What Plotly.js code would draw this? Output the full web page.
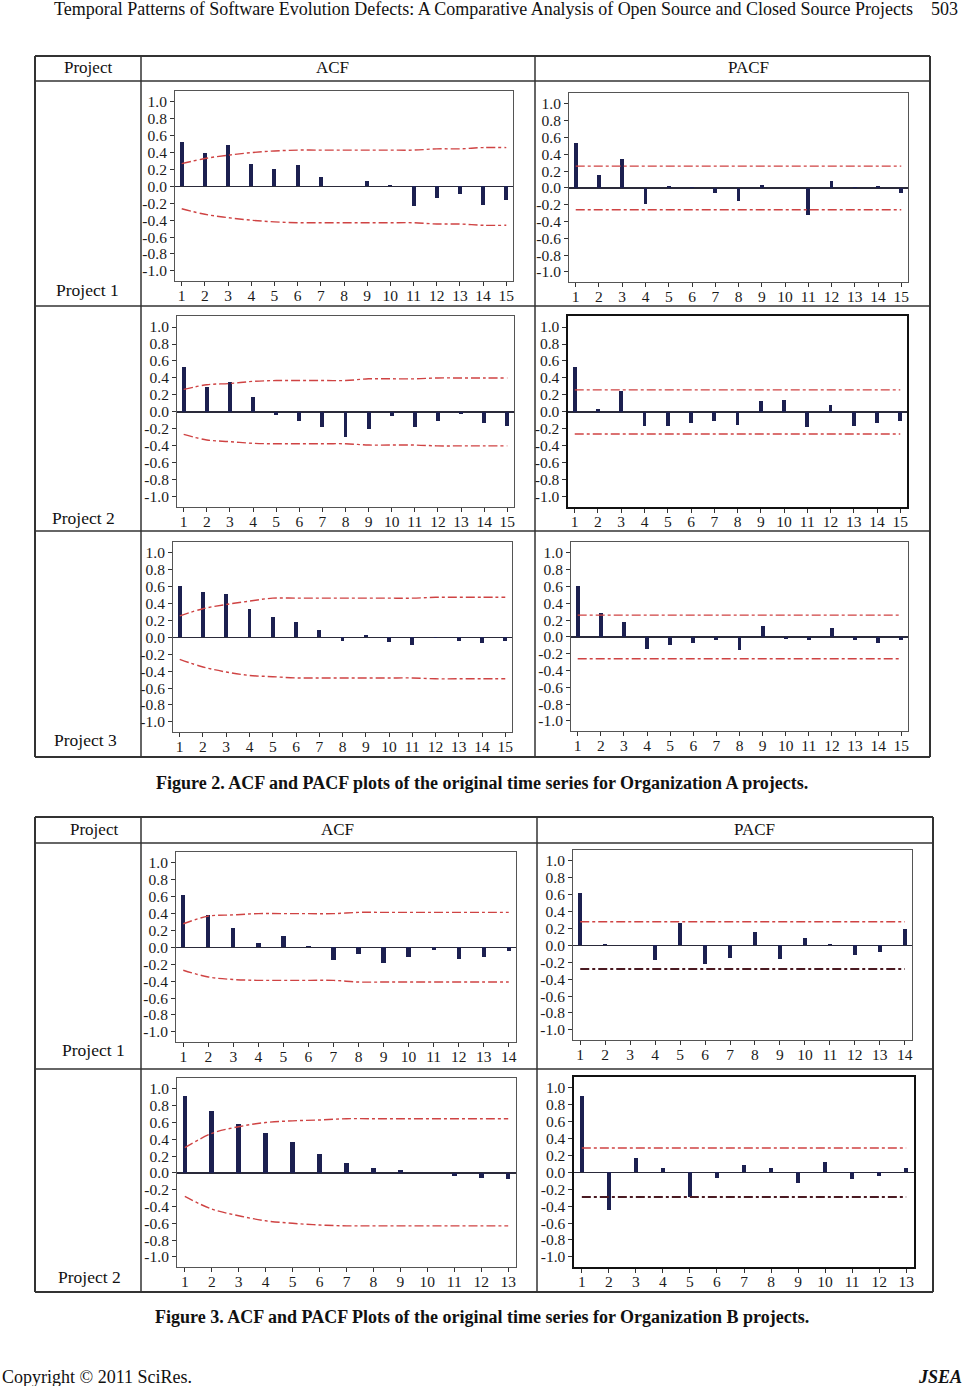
<!DOCTYPE html>
<html><head><meta charset="utf-8">
<script src="https://cdn.plot.ly/plotly-3.0.1.min.js"></script>
<style>html,body{margin:0;padding:0;background:#fff;}#chart{width:964px;height:1386px;}</style>
</head><body><div id="chart"></div>
<script>
// ---------- DATA ----------
const yTickValues = [1.0, 0.8, 0.6, 0.4, 0.2, 0.0, -0.2, -0.4, -0.6, -0.8, -1.0];
const yTickLabels = ['1.0', '0.8', '0.6', '0.4', '0.2', '0.0', '-0.2', '-0.4', '-0.6', '-0.8', '-1.0'];
const lags15 = [1, 2, 3, 4, 5, 6, 7, 8, 9, 10, 11, 12, 13, 14, 15];
const lags14 = [1, 2, 3, 4, 5, 6, 7, 8, 9, 10, 11, 12, 13, 14];
const lags13 = [1, 2, 3, 4, 5, 6, 7, 8, 9, 10, 11, 12, 13];

// Organization A, Project 1
const acfA1 = [0.53, 0.39, 0.49, 0.27, 0.21, 0.25, 0.115, 0.005, 0.06, 0.02, -0.23, -0.14, -0.09, -0.225, -0.16];
const acfA1Upper = [0.27, 0.33, 0.37, 0.40, 0.42, 0.43, 0.43, 0.43, 0.43, 0.43, 0.43, 0.445, 0.445, 0.46, 0.46];
const acfA1Lower = [-0.265, -0.33, -0.37, -0.40, -0.42, -0.43, -0.43, -0.43, -0.43, -0.43, -0.43, -0.445, -0.445, -0.46, -0.46];
const pacfA1 = [0.54, 0.15, 0.35, -0.19, 0.02, 0.01, -0.06, -0.15, 0.03, 0.005, -0.32, 0.08, 0.008, 0.02, -0.055];
const pacfA1Bound = 0.26;

// Organization A, Project 2
const acfA2 = [0.53, 0.29, 0.35, 0.17, -0.04, -0.11, -0.18, -0.30, -0.20, -0.05, -0.18, -0.11, -0.03, -0.13, -0.16];
const acfA2Upper = [0.265, 0.32, 0.335, 0.36, 0.37, 0.37, 0.37, 0.37, 0.39, 0.39, 0.39, 0.40, 0.40, 0.40, 0.40];
const acfA2Lower = [-0.265, -0.33, -0.35, -0.37, -0.375, -0.375, -0.375, -0.375, -0.39, -0.39, -0.39, -0.40, -0.40, -0.40, -0.40];
const pacfA2 = [0.53, 0.03, 0.25, -0.16, -0.16, -0.13, -0.11, -0.15, 0.13, 0.145, -0.18, 0.08, -0.16, -0.13, -0.11];
const pacfA2Bound = 0.26;

// Organization A, Project 3
const acfA3 = [0.61, 0.535, 0.51, 0.34, 0.24, 0.18, 0.09, -0.04, 0.03, -0.05, -0.09, -0.005, -0.045, -0.07, -0.04];
const acfA3Upper = [0.255, 0.34, 0.39, 0.43, 0.465, 0.465, 0.465, 0.465, 0.465, 0.465, 0.465, 0.475, 0.475, 0.475, 0.475];
const acfA3Lower = [-0.26, -0.35, -0.41, -0.45, -0.465, -0.48, -0.48, -0.48, -0.48, -0.48, -0.48, -0.49, -0.49, -0.49, -0.49];
const pacfA3 = [0.61, 0.28, 0.18, -0.14, -0.10, -0.07, -0.04, -0.15, 0.125, -0.02, -0.04, 0.105, -0.04, -0.07, -0.04];
const pacfA3Bound = 0.26;

// Organization B, Project 1
const acfB1 = [0.62, 0.38, 0.23, 0.05, 0.13, 0.015, -0.15, -0.075, -0.18, -0.11, -0.025, -0.135, -0.11, -0.04];
const acfB1Upper = [0.28, 0.37, 0.385, 0.40, 0.40, 0.40, 0.40, 0.415, 0.415, 0.415, 0.415, 0.415, 0.415, 0.415];
const acfB1Lower = [-0.27, -0.35, -0.38, -0.39, -0.39, -0.39, -0.39, -0.41, -0.41, -0.41, -0.41, -0.41, -0.41, -0.41];
const pacfB1 = [0.62, 0.02, 0.005, -0.17, 0.265, -0.225, -0.15, 0.16, -0.16, 0.09, 0.015, -0.11, -0.08, 0.20];
const pacfB1Bound = 0.28;

// Organization B, Project 2
const acfB2 = [0.91, 0.74, 0.58, 0.48, 0.37, 0.23, 0.12, 0.06, 0.03, 0.005, -0.04, -0.06, -0.07];
const acfB2Upper = [0.30, 0.47, 0.55, 0.60, 0.62, 0.63, 0.645, 0.645, 0.645, 0.645, 0.645, 0.645, 0.645];
const acfB2Lower = [-0.28, -0.43, -0.51, -0.57, -0.60, -0.62, -0.63, -0.63, -0.63, -0.63, -0.63, -0.63, -0.63];
const pacfB2 = [0.90, -0.44, 0.17, 0.05, -0.29, -0.065, 0.09, 0.05, -0.12, 0.12, -0.08, -0.045, 0.05];
const pacfB2Bound = 0.29;

// Texts
const headerTitle = 'Temporal Patterns of Software Evolution Defects: A Comparative Analysis of Open Source and Closed Source Projects';
const pageNumber = '503';
const colProject = 'Project', colACF = 'ACF', colPACF = 'PACF';
const caption2 = 'Figure 2. ACF and PACF plots of the original time series for Organization A projects.';
const caption3 = 'Figure 3. ACF and PACF Plots of the original time series for Organization B projects.';
const footerLeft = 'Copyright © 2011 SciRes.';
const footerRight = 'JSEA';

// ---------- LAYOUT HELPERS ----------
const W = 964, H = 1386;
const px = x => x / W;
const py = y => 1 - y / H;
const SERIF = 'Liberation Serif, Times New Roman, serif';
const BAR = '#1c2050';
const RED = '#cf4343';

const panels = [
  {kind: 'acf', x: lags15, y: acfA1, up: acfA1Upper, lo: acfA1Lower, box: [175, 91, 513, 281]},
  {kind: 'pacf', x: lags15, y: pacfA1, b: pacfA1Bound, box: [569, 93, 908, 282]},
  {kind: 'acf', x: lags15, y: acfA2, up: acfA2Upper, lo: acfA2Lower, box: [177, 316, 514, 507]},
  {kind: 'pacf', x: lags15, y: pacfA2, b: pacfA2Bound, box: [568, 316, 907, 507], frame: '#111', fw: 1.6},
  {kind: 'acf', x: lags15, y: acfA3, up: acfA3Upper, lo: acfA3Lower, box: [173, 542, 512, 732]},
  {kind: 'pacf', x: lags15, y: pacfA3, b: pacfA3Bound, box: [571, 542, 908, 731]},
  {kind: 'acf', x: lags14, y: acfB1, up: acfB1Upper, lo: acfB1Lower, box: [176, 852, 516, 1042]},
  {kind: 'pacf', x: lags14, y: pacfB1, b: pacfB1Bound, box: [573, 850, 912, 1040], darkLower: true},
  {kind: 'acf', x: lags13, y: acfB2, up: acfB2Upper, lo: acfB2Lower, box: [177, 1078, 516, 1267]},
  {kind: 'pacf', x: lags13, y: pacfB2, b: pacfB2Bound, box: [574, 1077, 914, 1267], darkLower: true, frame: '#111', fw: 1.6}
];

const data = [];
const layout = {
  width: W, height: H,
  margin: {l: 0, r: 0, t: 0, b: 0},
  paper_bgcolor: '#fff', plot_bgcolor: '#fff',
  showlegend: false, bargap: 0,
  shapes: [], annotations: []
};

panels.forEach((p, i) => {
  const n = i + 1;
  const xa = 'x' + (n === 1 ? '' : n), ya = 'y' + (n === 1 ? '' : n);
  const N = p.x.length;
  const [l, t, r, b] = p.box;
  const tickFont = {family: SERIF, size: 15.5, color: '#1a1a1a'};
  layout['xaxis' + (n === 1 ? '' : n)] = {
    domain: [px(l), px(r)], anchor: ya, range: [0.71, N + 0.29],
    tickvals: p.x, ticktext: p.x.map(String), ticks: 'outside', ticklen: 4, tickcolor: '#333',
    ticklabelstandoff: -4,
    showline: true, mirror: true, linecolor: p.frame || '#555', linewidth: p.fw || 1,
    showgrid: false, zeroline: false, tickfont: tickFont, fixedrange: true
  };
  layout['yaxis' + (n === 1 ? '' : n)] = {
    domain: [py(b), py(t)], anchor: xa, range: [-1.12, 1.13],
    tickvals: yTickValues, ticktext: yTickLabels, ticks: 'outside', ticklen: 4, tickcolor: '#333',
    showline: true, mirror: true, linecolor: p.frame || '#555', linewidth: p.fw || 1,
    showgrid: false, zeroline: true, zerolinecolor: '#2a2a3a', zerolinewidth: 1.5,
    tickfont: tickFont, fixedrange: true
  };
  data.push({type: 'bar', x: p.x, y: p.y, xaxis: xa, yaxis: ya, width: 0.17,
    marker: {color: BAR, line: {width: 0}}, hoverinfo: 'x+y'});
  if (p.kind === 'acf') {
    data.push({type: 'scatter', mode: 'lines', x: p.x, y: p.up, xaxis: xa, yaxis: ya,
      line: {color: RED, width: 1.4, dash: 'dashdot', shape: 'spline'}});
    data.push({type: 'scatter', mode: 'lines', x: p.x, y: p.lo, xaxis: xa, yaxis: ya,
      line: {color: RED, width: 1.4, dash: 'dashdot', shape: 'spline'}});
  } else {
    const ends = [p.x[0], p.x[N - 1]];
    data.push({type: 'scatter', mode: 'lines', x: ends, y: [p.b, p.b], xaxis: xa, yaxis: ya,
      line: {color: RED, width: 1.4, dash: 'dashdot'}});
    data.push({type: 'scatter', mode: 'lines', x: ends, y: [-p.b, -p.b], xaxis: xa, yaxis: ya,
      line: p.darkLower ? {color: '#4a1a22', width: 2, dash: 'dashdot'} : {color: RED, width: 1.4, dash: 'dashdot'}});
  }
});

// Table lines
function hline(y, x0, x1, w) { layout.shapes.push({type: 'line', xref: 'paper', yref: 'paper', x0: px(x0), x1: px(x1), y0: py(y), y1: py(y), line: {color: '#333', width: w}}); }
function vline(x, y0, y1, w) { layout.shapes.push({type: 'line', xref: 'paper', yref: 'paper', x0: px(x), x1: px(x), y0: py(y0), y1: py(y1), line: {color: '#333', width: w}}); }
// Table 1
hline(56, 35, 930, 2); hline(757, 35, 930, 2); vline(35, 56, 757, 2); vline(930, 56, 757, 2);
hline(81, 35, 930, 1.5); hline(306, 35, 930, 1.5); hline(531, 35, 930, 1.5);
vline(141, 56, 757, 1.5); vline(535, 56, 757, 1.5);
// Table 2
hline(817, 35, 933, 2); hline(1292, 35, 933, 2); vline(35, 817, 1292, 2); vline(933, 817, 1292, 2);
hline(843, 35, 933, 1.5); hline(1069, 35, 933, 1.5);
vline(141, 817, 1292, 1.5); vline(537, 817, 1292, 1.5);

function txt(s, x, y, size, opts) {
  opts = opts || {};
  layout.annotations.push({text: s, xref: 'paper', yref: 'paper', x: px(x), y: py(y),
    xanchor: opts.xa || 'center', yanchor: 'middle', showarrow: false,
    font: {family: SERIF, size: size, color: opts.color || '#111', weight: opts.weight || 'normal', style: opts.style || 'normal'}});
}
txt(headerTitle, 483, 9, 18);
txt(pageNumber, 944, 9, 18);
txt(colProject, 88, 68, 17); txt(colACF, 332, 68, 17); txt(colPACF, 748, 68, 17);
txt('Project 1', 87, 290, 17.5); txt('Project 2', 83, 518, 17.5); txt('Project 3', 85, 740, 17.5);
txt(caption2, 482, 783, 18, {weight: 'bold'});
txt(colProject, 94, 829, 17); txt(colACF, 337, 829, 17); txt(colPACF, 754, 829, 17);
txt('Project 1', 93, 1050, 17.5); txt('Project 2', 89, 1277, 17.5);
txt(caption3, 482, 1317, 18, {weight: 'bold'});
txt(footerLeft, 0, 1377, 18, {xa: 'left'});
txt(footerRight, 964, 1377, 18, {xa: 'right', weight: 'bold', style: 'italic'});

Plotly.newPlot('chart', data, layout, {staticPlot: true});
</script></body></html>
